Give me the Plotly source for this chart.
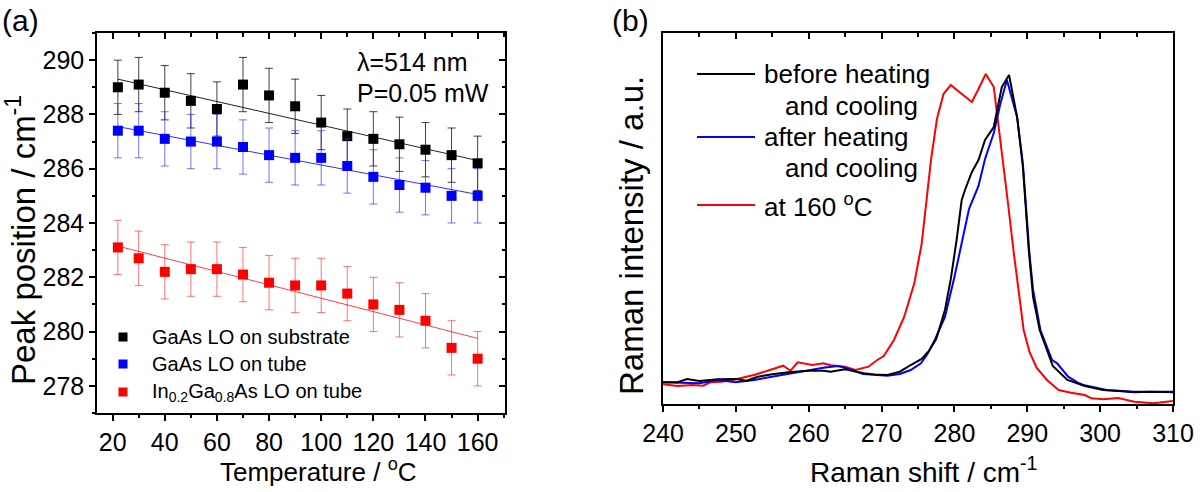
import plotly.graph_objects as go

# ---------------- Panel (a) data ----------------
temperature = [22, 30, 40, 50, 60, 70, 80, 90, 100, 110, 120, 130, 140, 150, 160]
gaas_substrate = [289.0, 289.1, 288.8, 288.5, 288.2, 289.1, 288.7, 288.3, 287.7, 287.2, 287.1, 286.9, 286.7, 286.5, 286.2]
gaas_tube = [287.4, 287.4, 287.1, 287.0, 287.0, 286.8, 286.5, 286.4, 286.4, 286.1, 285.7, 285.4, 285.3, 285.0, 285.0]
ingaas_tube = [283.1, 282.7, 282.2, 282.3, 282.3, 282.1, 281.8, 281.7, 281.7, 281.4, 281.0, 280.8, 280.4, 279.4, 279.0]
peak_error = [1.0, 1.0, 1.0, 1.0, 1.0, 1.0, 1.0, 1.0, 1.0, 1.0, 1.0, 1.0, 1.0, 1.0, 1.0]
fit_temperature = [22, 160]
fit_substrate = [289.3, 286.3]
fit_tube = [287.55, 285.05]
fit_ingaas = [283.15, 279.75]
temp_ticks = [20, 40, 60, 80, 100, 120, 140, 160]
peak_ticks = [278, 280, 282, 284, 286, 288, 290]
series_names = ["GaAs LO on substrate", "GaAs LO on tube",
                "In<sub>0.2</sub>Ga<sub>0.8</sub>As LO on tube"]

# ---------------- Panel (b) data ----------------
shift_before = [240, 242, 243.3, 245, 247.5, 250, 251.5, 253, 255, 257.5, 260, 262, 263, 265,
                267.5, 269, 270.8, 272.5, 274, 275.5, 276.5, 277.5, 278.7, 279.5, 280.3, 281.0,
                281.5, 282.4, 283.3, 284.2, 285.4, 286.5, 287.5, 288.6, 289.4, 290.2, 290.8,
                291.7, 293.5, 295.5, 297.9, 300.4, 302.5, 304.7, 307, 310]
int_before = [21.7, 21.7, 25, 23, 24.7, 25, 23.3, 27.3, 29.7, 32, 33.3, 33.3, 32.3, 34.7,
              30.7, 29.5, 29, 32.3, 39, 45, 53, 65, 94, 125, 164, 204,
              215, 232, 244, 264, 277, 317, 329, 287, 237, 154, 107,
              74, 38, 24, 18, 14, 13, 11.7, 12.3, 11.7]

shift_after = [240, 243, 245, 247.5, 250, 252.5, 255, 257.5, 260, 262, 264, 265,
               267.5, 269, 270.8, 272.5, 274, 275.4, 276.3, 277.3, 278.7, 280.0, 281.0,
               282.0, 283.3, 284.2, 285.4, 286.3, 287.2, 288.6, 289.4, 290.3, 290.8,
               291.8, 293.4, 294.1, 295.6, 297.1, 297.7, 300.9, 304.7, 307, 310]
int_after = [21.7, 20.7, 20.7, 24, 21.7, 24, 27.3, 30.7, 33.3, 36.3, 38, 36.3,
             30, 29.5, 28.3, 30, 34, 40.7, 50, 64, 87, 127, 160,
             195, 218, 245, 271, 300, 324, 287, 240, 150, 114,
             74, 44, 40.7, 27.3, 20.7, 19, 14, 12.3, 12.5, 12.3]

shift_hot = [240, 242, 244, 245.5, 246.5, 248, 250, 252.5, 255, 256.5, 257.5, 258.5,
             260.5, 262, 263, 265, 266.4, 268.2, 269.4, 270.3, 271.7, 273.1, 274.5,
             275.5, 276.8, 277.6, 278.5, 279.5, 280.5, 281.5, 282.4, 283.3, 284.3,
             285.4, 286.5, 287.3, 288.1, 288.6, 289.5, 290.3, 291.3, 292.7, 294.3,
             296.0, 297.9, 298.8, 300.4, 302.5, 304.7, 307.3, 310]
int_hot = [19.7, 18, 19, 18.3, 21.7, 22.3, 24.7, 29, 34.7, 38.3, 33.3, 41.7,
           39, 40.7, 38.7, 37.3, 34, 37.3, 44, 48, 64, 87, 121,
           160, 245, 285, 310, 319, 313, 307, 302, 315, 330,
           317, 254, 204, 154, 124, 74, 52, 36, 24, 14,
           11.3, 9, 5.7, 4.7, 6, 2.3, 0.7, 3]
shift_ticks = [240, 250, 260, 270, 280, 290, 300, 310]
spectrum_names = ["before heating", "after heating", "at 160 <sup>o</sup>C"]

FONT = "Liberation Sans, Arial, sans-serif"
W, H = 1200, 492


def px(x):
    return x / W


def py(y):
    return 1 - y / H


fig = go.Figure()

# ---- panel (a) fit lines
for fy, col in [(fit_substrate, "#222222"), (fit_tube, "#3030ff"), (fit_ingaas, "#ff4040")]:
    fig.add_trace(go.Scatter(x=fit_temperature, y=fy, mode="lines",
                             line=dict(color=col, width=1), showlegend=False,
                             hoverinfo="skip", xaxis="x", yaxis="y"))

# ---- panel (a) data points
colors_a = ["#000000", "#0000ff", "#ff0000"]
ecolors_a = ["rgba(0,0,0,0.75)", "rgba(40,40,255,0.65)", "rgba(255,40,40,0.65)"]
for name, vals, col, ecol in zip(series_names, [gaas_substrate, gaas_tube, ingaas_tube],
                                 colors_a, ecolors_a):
    fig.add_trace(go.Scatter(
        x=temperature, y=vals, mode="markers", name=name, showlegend=False,
        marker=dict(symbol="square", size=10, color=col),
        error_y=dict(type="data", array=peak_error, visible=True,
                     color=ecol, thickness=1, width=4),
        xaxis="x", yaxis="y"))

# invisible trace to activate mirrored (top/right) tick axes of panel (a)
fig.add_trace(go.Scatter(x=temperature, y=gaas_substrate, mode="markers",
                         marker=dict(opacity=0), showlegend=False, hoverinfo="skip",
                         xaxis="x3", yaxis="y3"))

# ---- panel (b) spectra
fig.add_trace(go.Scatter(x=shift_hot, y=int_hot, mode="lines", showlegend=False,
                         line=dict(color="#ff0000", width=2), xaxis="x2", yaxis="y2"))
fig.add_trace(go.Scatter(x=shift_after, y=int_after, mode="lines", showlegend=False,
                         line=dict(color="#0000ff", width=2), xaxis="x2", yaxis="y2"))
fig.add_trace(go.Scatter(x=shift_before, y=int_before, mode="lines", showlegend=False,
                         line=dict(color="#000000", width=2), xaxis="x2", yaxis="y2"))
fig.add_trace(go.Scatter(x=shift_before, y=int_before, mode="lines", showlegend=False,
                         line=dict(width=0), opacity=0, hoverinfo="skip",
                         xaxis="x4", yaxis="y4"))

tickfont = dict(family=FONT, size=25, color="black")
axcommon = dict(showgrid=False, zeroline=False, linecolor="black", linewidth=1.5,
                tickcolor="black", tickwidth=1.5, automargin=False)
mirror_common = dict(showticklabels=False, showline=False, showgrid=False, zeroline=False,
                     tickcolor="black", tickwidth=1.5, automargin=False)

dom_ax = [px(97), px(505)]
dom_ay = [py(413), py(33)]
dom_bx = [px(663), px(1173)]
dom_by = [py(404), py(33)]
range_temp = [14, 170.5]
range_peak = [277, 291]
range_shift = [240, 310]
range_int = [0, 371]

fig.update_layout(
    template="none",
    width=W, height=H, margin=dict(l=0, r=0, t=0, b=0, autoexpand=False),
    paper_bgcolor="white", plot_bgcolor="white",
    font=dict(family=FONT, color="black"),
    showlegend=False,
    xaxis=dict(domain=dom_ax, range=range_temp, anchor="y", mirror=True,
               tickmode="array", tickvals=temp_ticks, ticks="outside", ticklen=6,
               minor=dict(dtick=10, tick0=0, ticks="outside", ticklen=3.5,
                          tickwidth=1.5, tickcolor="black"),
               tickfont=tickfont, **axcommon),
    yaxis=dict(domain=dom_ay, range=range_peak, anchor="x", mirror=True,
               tickmode="array", tickvals=peak_ticks, ticks="outside", ticklen=6,
               minor=dict(dtick=1, tick0=0, ticks="outside", ticklen=3.5,
                          tickwidth=1.5, tickcolor="black"),
               tickfont=tickfont, **axcommon),
    xaxis3=dict(overlaying="x", side="top", anchor="y3", range=range_temp,
                tickmode="array", tickvals=temp_ticks, ticks="inside", ticklen=6,
                minor=dict(dtick=10, tick0=0, ticks="inside", ticklen=3.5,
                           tickwidth=1.5, tickcolor="black"), **mirror_common),
    yaxis3=dict(overlaying="y", side="right", anchor="x3", range=range_peak,
                tickmode="array", tickvals=peak_ticks, ticks="inside", ticklen=6,
                minor=dict(dtick=1, tick0=0, ticks="inside", ticklen=3.5,
                           tickwidth=1.5, tickcolor="black"), **mirror_common),
    xaxis2=dict(domain=dom_bx, range=range_shift, anchor="y2", mirror=True,
                tickmode="array", tickvals=shift_ticks, ticks="outside", ticklen=6,
                minor=dict(dtick=5, tick0=0, ticks="outside", ticklen=3.5,
                           tickwidth=1.5, tickcolor="black"),
                tickfont=tickfont, **axcommon),
    yaxis2=dict(domain=dom_by, range=range_int, anchor="x2", mirror=True,
                ticks="", showticklabels=False, **axcommon),
    xaxis4=dict(overlaying="x2", side="top", anchor="y4", range=range_shift,
                tickmode="array", tickvals=shift_ticks, ticks="inside", ticklen=6,
                minor=dict(dtick=5, tick0=0, ticks="inside", ticklen=3.5,
                           tickwidth=1.5, tickcolor="black"), **mirror_common),
    yaxis4=dict(overlaying="y2", side="right", anchor="x4", range=range_int,
                ticks="", showticklabels=False, showline=False, showgrid=False,
                zeroline=False, automargin=False),
)


def ann(text, x, y, size, xanchor="left", yanchor="middle", angle=0):
    return dict(text=text, x=px(x), y=py(y), xref="paper", yref="paper",
                xanchor=xanchor, yanchor=yanchor, showarrow=False, textangle=angle,
                font=dict(family=FONT, size=size, color="black"))


annotations = [
    ann("(a)", 0, 20, 30),
    ann("(b)", 610, 20, 30),
    ann("λ=514 nm", 355, 62, 25),
    ann("P=0.05 mW", 355, 93, 25),
    # axis titles
    ann("Temperature / <sup>o</sup>C", 318, 470, 26, xanchor="center"),
    ann("Peak position / cm<sup>-1</sup>", 21, 240, 33, xanchor="center", angle=-90),
    ann("Raman shift / cm<sup>-1</sup>", 924, 470, 28, xanchor="center"),
    ann("Raman intensity / a.u.", 631, 236, 33, xanchor="center", angle=-90),
]

shapes = []
# manual legend, panel (a)
for name, col, yy in zip(series_names, colors_a, [337, 364, 392]):
    shapes.append(dict(type="rect", xref="paper", yref="paper",
                       x0=px(118.5), x1=px(127.5), y0=py(yy - 4.5), y1=py(yy + 4.5),
                       fillcolor=col, line=dict(width=0)))
    annotations.append(ann(name, 150, yy, 20))

# manual legend, panel (b)
for name, col, yy in zip(spectrum_names, ["#000000", "#0000ff", "#ff0000"], [74, 137, 205]):
    shapes.append(dict(type="line", xref="paper", yref="paper", x0=px(697), x1=px(755),
                       y0=py(yy), y1=py(yy), line=dict(color=col, width=2)))
    annotations.append(ann(name, 762, yy, 26))
annotations.append(ann("and cooling", 783, 106, 26))
annotations.append(ann("and cooling", 783, 168, 26))

fig.update_layout(annotations=annotations, shapes=shapes)

fig.write_html("out.html", config={"displayModeBar": False},
               post_script="document.body.style.margin='0px';")
